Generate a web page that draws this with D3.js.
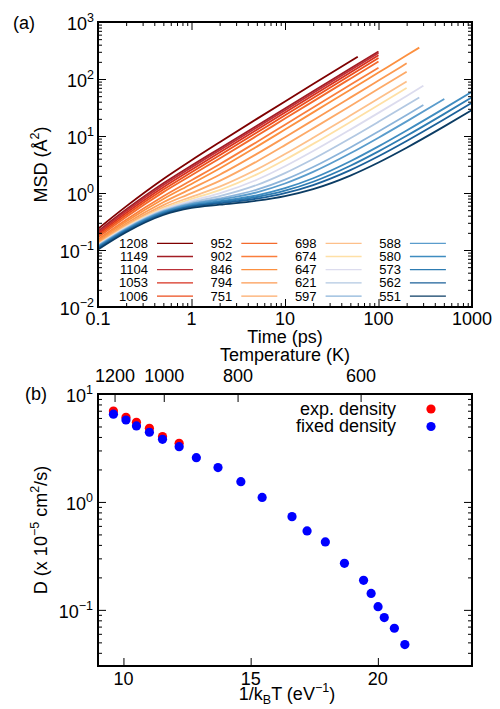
<!DOCTYPE html>
<html>
<head>
<meta charset="utf-8">
<script src="https://cdn.jsdelivr.net/npm/d3@7"></script>
<style>
  body { margin: 0; background: #fff; }
  svg { font-family: "Liberation Sans", Arial, sans-serif; }
</style>
</head>
<body>
<div id="chart"></div>
<script>
// sampled times (ps) for the MSD curves
const times = [0.1, 0.2, 0.5, 1, 2, 5, 10, 20, 50, 100, 200, 500, 1000];
const temps = [1208, 1149, 1104, 1053, 1006, 952, 902, 846, 794, 751, 698, 674, 647, 621, 597, 588, 580, 573, 562, 551];
const endTimes = [60, 100, 100, 100, 100, 100, 100, 273, 200, 200, 200, 200, 302, 273, 302, 506, 1000, 1000, 1000, 1000];
const colors = ["#7f0000", "#a31d24", "#bb3038", "#d7301f", "#ec4d1c", "#f46a2c", "#fa7e3c", "#fc9040", "#fc9a52", "#fdaa68",
                "#fdc08a", "#fee0a6", "#dcdcee", "#b2c8e2", "#8cb4da", "#5a9ccc", "#3f8cc0", "#2e7cb2", "#1b6099", "#0b3c64"];

// MSD (A^2) at times[] up to each curve's end time
const msd = [
  [0.235, 0.582, 1.76, 3.75, 7.76, 19.97, 40.45, 81.46, 204.5, 245.5],
  [0.213, 0.512, 1.478, 3.026, 6.045, 15.17, 30.42, 60.94, 152.4, 304.9],
  [0.201, 0.481, 1.377, 2.814, 5.625, 14.14, 28.39, 56.9, 142.4, 284.9],
  [0.189, 0.445, 1.261, 2.561, 5.113, 12.87, 25.86, 51.87, 129.9, 259.9],
  [0.177, 0.412, 1.147, 2.309, 4.584, 11.52, 23.16, 46.46, 116.4, 232.9],
  [0.166, 0.380, 1.036, 2.05, 4.024, 10.06, 20.2, 40.5, 101.4, 202.9],
  [0.153, 0.340, 0.880, 1.675, 3.196, 7.875, 15.76, 31.56, 78.98, 158.0],
  [0.145, 0.315, 0.785, 1.443, 2.682, 6.513, 12.99, 25.98, 65.0, 130.0, 260.0, 355.0],
  [0.137, 0.292, 0.688, 1.193, 2.09, 4.852, 9.535, 18.93, 47.14, 94.16, 188.2],
  [0.131, 0.273, 0.614, 0.996, 1.63, 3.582, 6.912, 13.61, 33.71, 67.24, 134.2],
  [0.127, 0.261, 0.561, 0.857, 1.29, 2.594, 4.828, 9.325, 22.84, 45.35, 90.37],
  [0.124, 0.253, 0.534, 0.788, 1.124, 2.118, 3.825, 7.269, 17.63, 34.89, 69.42],
  [0.122, 0.247, 0.512, 0.731, 0.986, 1.706, 2.943, 5.44, 12.95, 25.47, 50.48, 75.99],
  [0.120, 0.241, 0.494, 0.688, 0.879, 1.381, 2.236, 3.955, 9.129, 17.75, 34.96, 47.53],
  [0.118, 0.236, 0.480, 0.656, 0.803, 1.145, 1.717, 2.861, 6.298, 12.02, 23.43, 35.07],
  [0.116, 0.232, 0.470, 0.636, 0.762, 1.03, 1.469, 2.345, 4.971, 9.339, 18.06, 44.18, 44.7],
  [0.113, 0.227, 0.457, 0.613, 0.718, 0.911, 1.216, 1.814, 3.603, 6.57, 12.49, 30.21, 59.73],
  [0.111, 0.222, 0.446, 0.596, 0.691, 0.851, 1.097, 1.576, 3.005, 5.372, 10.09, 24.21, 47.73],
  [0.107, 0.215, 0.432, 0.575, 0.662, 0.796, 0.995, 1.38, 2.523, 4.415, 8.182, 19.45, 38.22],
  [0.102, 0.205, 0.411, 0.546, 0.623, 0.732, 0.884, 1.171, 2.023, 3.432, 6.23, 14.59, 28.51]
];

// diffusion coefficients (x 1e-5 cm^2/s)
const dExp = [6.96, 6.08, 5.47, 4.81, 4.03, 3.49];
const dFixed = [6.5, 5.74, 5.06, 4.42, 3.80, 3.25, 2.57, 2.08, 1.54, 1.10, 0.731, 0.539, 0.426, 0.270, 0.188, 0.142, 0.107, 0.0849, 0.0676, 0.0477];
const tempTicks = [1200, 1000, 800, 600];
const kB = 8.617333e-5;

const width = 500, height = 709;
const svg = d3.select("#chart").append("svg")
    .attr("width", width)
    .attr("height", height);

function minorLog(lo, hi) {
    const out = [];
    for (let e = lo; e < hi; e++) for (let m = 2; m <= 9; m++) out.push(m * Math.pow(10, e));
    return out;
}

function tickAxis(g, axis, size, vals) {
    g.call(axis.tickValues(vals).tickSize(-size).tickSizeOuter(0).tickFormat(""))
     .call(s => s.select(".domain").remove())
     .call(s => s.selectAll("line").attr("stroke", "#000").attr("stroke-width", 1));
}

function powLabel(g, xx, yy, exp, fs) {
    const t = g.append("text").attr("x", xx).attr("y", yy)
        .attr("text-anchor", "end").style("font-size", fs + "px");
    t.append("tspan").text("10");
    t.append("tspan").attr("dy", -8).style("font-size", "12.5px")
        .text(exp < 0 ? "\u2212" + (-exp) : exp);
}

// ---------- panel (a) ----------
const a = {left: 98, right: 472, top: 22, bottom: 307};
const x = d3.scaleLog().domain([0.1, 1000]).range([a.left, a.right]);
const y = d3.scaleLog().domain([0.01, 1000]).range([a.bottom, a.top]);

svg.append("clipPath").attr("id", "clipA").append("rect")
    .attr("x", a.left).attr("y", a.top)
    .attr("width", a.right - a.left).attr("height", a.bottom - a.top);

const series = temps.map((T, i) => {
    const ts = times.filter(t => t < endTimes[i]).concat([endTimes[i]]);
    return {T, color: colors[i], points: ts.map((t, j) => [t, msd[i][j]])};
});

const line = d3.line()
    .x(d => x(d[0]))
    .y(d => y(d[1]))
    .curve(d3.curveMonotoneX);

svg.append("g").attr("clip-path", "url(#clipA)")
  .selectAll("path")
  .data(series)
  .enter().append("path")
    .attr("d", d => line(d.points))
    .attr("fill", "none")
    .attr("stroke", d => d.color)
    .attr("stroke-width", 1.8);

const xMajorA = [0.1, 1, 10, 100, 1000];
const yMajorA = [0.01, 0.1, 1, 10, 100, 1000];
const axA = svg.append("g");
axA.append("g").attr("transform", `translate(0,${a.bottom})`).call(g => tickAxis(g, d3.axisBottom(x), 8, xMajorA));
axA.append("g").attr("transform", `translate(0,${a.bottom})`).call(g => tickAxis(g, d3.axisBottom(x), 4, minorLog(-1, 3)));
axA.append("g").attr("transform", `translate(0,${a.top})`).call(g => tickAxis(g, d3.axisTop(x), 8, xMajorA));
axA.append("g").attr("transform", `translate(0,${a.top})`).call(g => tickAxis(g, d3.axisTop(x), 4, minorLog(-1, 3)));
axA.append("g").attr("transform", `translate(${a.left},0)`).call(g => tickAxis(g, d3.axisLeft(y), 8, yMajorA));
axA.append("g").attr("transform", `translate(${a.left},0)`).call(g => tickAxis(g, d3.axisLeft(y), 4, minorLog(-2, 3)));
axA.append("g").attr("transform", `translate(${a.right},0)`).call(g => tickAxis(g, d3.axisRight(y), 8, yMajorA));
axA.append("g").attr("transform", `translate(${a.right},0)`).call(g => tickAxis(g, d3.axisRight(y), 4, minorLog(-2, 3)));

svg.append("rect")
    .attr("x", a.left).attr("y", a.top)
    .attr("width", a.right - a.left).attr("height", a.bottom - a.top)
    .attr("fill", "none").attr("stroke", "#000").attr("stroke-width", 2);

const labA = svg.append("g");
xMajorA.forEach(v => {
    labA.append("text").attr("x", x(v)).attr("y", 325)
        .attr("text-anchor", "middle").style("font-size", "18px")
        .text(v >= 1 ? String(v) : "0.1");
});
yMajorA.forEach(v => powLabel(labA, 94, y(v) + 7.5, Math.round(Math.log10(v)), 18));

// legend of temperatures
const leg = svg.append("g").style("font-size", "13px");
series.forEach((s, i) => {
    const col = Math.floor(i / 5), row = i % 5;
    const lx = 148 + 84.3 * col, ly = 243.3 + 13.2 * row;
    leg.append("text").attr("x", lx).attr("y", ly + 4.5)
        .attr("text-anchor", "end").text(s.T);
    leg.append("line")
        .attr("x1", lx + 9).attr("x2", lx + 45)
        .attr("y1", ly).attr("y2", ly)
        .attr("stroke", s.color).attr("stroke-width", 1.3);
});

svg.append("text").attr("x", 13).attr("y", 28.5).style("font-size", "18px").text("(a)");
svg.append("text").attr("x", 285).attr("y", 343).attr("text-anchor", "middle")
    .style("font-size", "18px").text("Time (ps)");
const msdLab = svg.append("text").attr("transform", "translate(47,164.5) rotate(-90)")
    .attr("text-anchor", "middle").style("font-size", "18px");
msdLab.append("tspan").text("MSD (\u00C5");
msdLab.append("tspan").attr("dy", -8).style("font-size", "12.5px").text("2");
msdLab.append("tspan").attr("dy", 8).text(")");

// ---------- panel (b) ----------
const b = {left: 98, right: 472, top: 394, bottom: 666};
const x2 = d3.scaleLinear().domain([9, 23.7]).range([b.left, b.right]);
const y2 = d3.scaleLog().domain([0.0302, 10]).range([b.bottom, b.top]);
const invT = T => 1 / (kB * T);

const axB = svg.append("g");
const yMinorB = minorLog(-2, 1).filter(v => v >= 0.0302 && v <= 10);
axB.append("g").attr("transform", `translate(0,${b.bottom})`).call(g => tickAxis(g, d3.axisBottom(x2), 8, [10, 15, 20]));
axB.append("g").attr("transform", `translate(${b.left},0)`).call(g => tickAxis(g, d3.axisLeft(y2), 8, [0.1, 1, 10]));
axB.append("g").attr("transform", `translate(${b.left},0)`).call(g => tickAxis(g, d3.axisLeft(y2), 4, yMinorB));
axB.append("g").attr("transform", `translate(${b.right},0)`).call(g => tickAxis(g, d3.axisRight(y2), 8, [0.1, 1, 10]));
axB.append("g").attr("transform", `translate(${b.right},0)`).call(g => tickAxis(g, d3.axisRight(y2), 4, yMinorB));

// temperature axis on top
axB.selectAll(".ttick").data(tempTicks).enter().append("line")
    .attr("x1", d => x2(invT(d))).attr("x2", d => x2(invT(d)))
    .attr("y1", b.top).attr("y2", b.top + 8)
    .attr("stroke", "#000");
axB.selectAll(".tlab").data(tempTicks).enter().append("text")
    .attr("x", d => x2(invT(d))).attr("y", 382)
    .attr("text-anchor", "middle").style("font-size", "18px")
    .text(d => d);

const ptsExp = dExp.map((v, i) => [invT(temps[i]), v]);
const ptsFixed = dFixed.map((v, i) => [invT(temps[i]), v]);

svg.append("g").selectAll("circle").data(ptsExp).enter().append("circle")
    .attr("cx", d => x2(d[0])).attr("cy", d => y2(d[1])).attr("r", 4.6).attr("fill", "#ff0000");
svg.append("g").selectAll("circle").data(ptsFixed).enter().append("circle")
    .attr("cx", d => x2(d[0])).attr("cy", d => y2(d[1])).attr("r", 4.6).attr("fill", "#0000ff");

svg.append("rect")
    .attr("x", b.left).attr("y", b.top)
    .attr("width", b.right - b.left).attr("height", b.bottom - b.top)
    .attr("fill", "none").attr("stroke", "#000").attr("stroke-width", 2);

const labB = svg.append("g");
[10, 15, 20].forEach(v => {
    labB.append("text").attr("x", x2(v)).attr("y", 685)
        .attr("text-anchor", "middle").style("font-size", "18px").text(v);
});
[0.1, 1, 10].forEach(v => powLabel(labB, 93, y2(v) + 8, Math.round(Math.log10(v)), 18));

// legend
const legB = svg.append("g").style("font-size", "18px");
[["exp. density", "#ff0000", 409], ["fixed density", "#0000ff", 426.5]].forEach(([name, c, yy]) => {
    legB.append("text").attr("x", 396).attr("y", yy + 5.5).attr("text-anchor", "end").text(name);
    legB.append("circle").attr("cx", 431).attr("cy", yy).attr("r", 4.6).attr("fill", c);
});

svg.append("text").attr("x", 25).attr("y", 400).style("font-size", "18px").text("(b)");
svg.append("text").attr("x", 285).attr("y", 361).attr("text-anchor", "middle")
    .style("font-size", "18px").text("Temperature (K)");

const xLabB = svg.append("text").attr("x", 287).attr("y", 700)
    .attr("text-anchor", "middle").style("font-size", "18px");
xLabB.append("tspan").text("1/k");
xLabB.append("tspan").attr("dy", 4).style("font-size", "12.5px").text("B");
xLabB.append("tspan").attr("dy", -4).text("T (eV");
xLabB.append("tspan").attr("dy", -8).style("font-size", "12.5px").text("\u22121");
xLabB.append("tspan").attr("dy", 8).text(")");

const dLab = svg.append("text").attr("transform", "translate(47,530) rotate(-90)")
    .attr("text-anchor", "middle").style("font-size", "18px");
dLab.append("tspan").text("D (x 10");
dLab.append("tspan").attr("dy", -8).style("font-size", "12.5px").text("\u22125");
dLab.append("tspan").attr("dy", 8).text(" cm");
dLab.append("tspan").attr("dy", -8).style("font-size", "12.5px").text("2");
dLab.append("tspan").attr("dy", 8).text("/s)");
</script>
</body>
</html>
